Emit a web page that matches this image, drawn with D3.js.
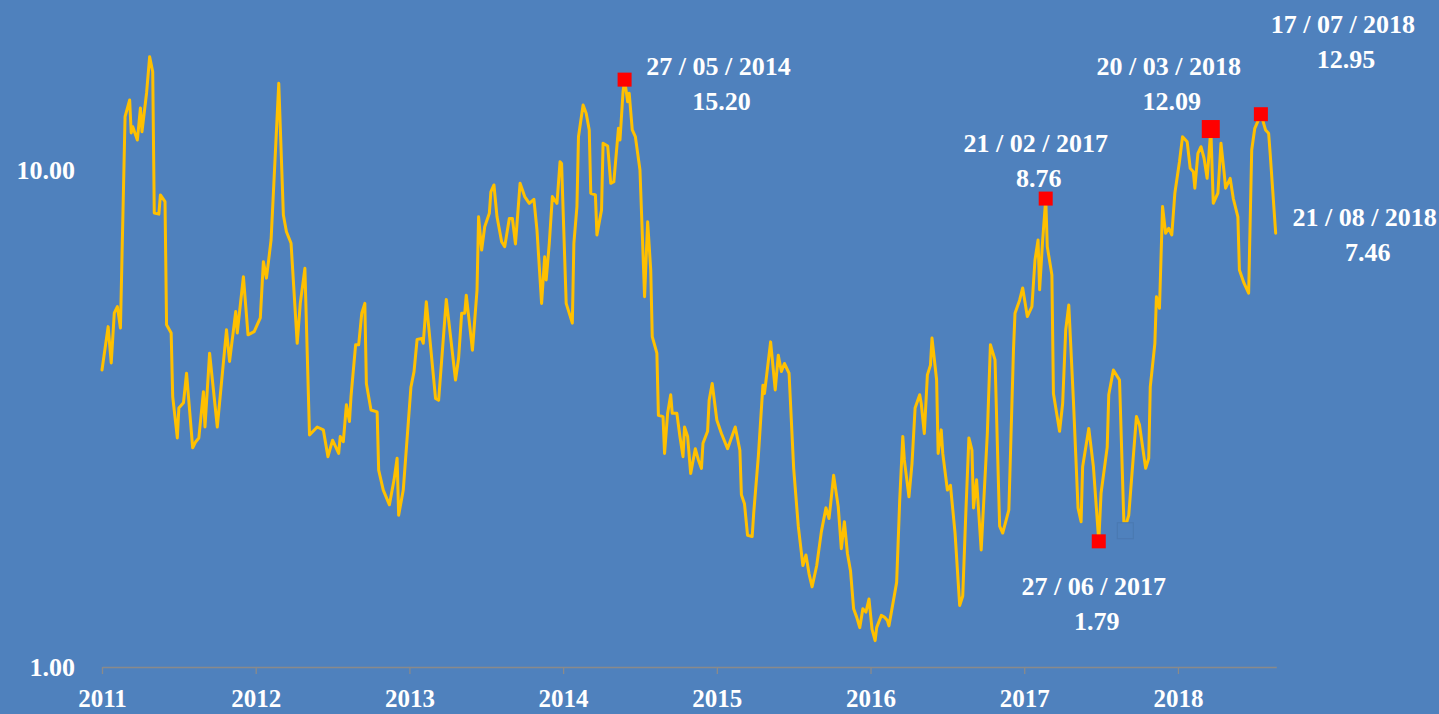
<!DOCTYPE html>
<html>
<head>
<meta charset="utf-8">
<script src="https://cdn.jsdelivr.net/npm/d3@7"></script>
<style>
  html, body { margin: 0; padding: 0; background: #4f81bd; }
  svg { display: block; }
</style>
</head>
<body>
<div id="chart"></div>
<script>
// weekly series, x as decimal year
const years = [
  2011.00, 2011.04, 2011.06, 2011.08, 2011.10, 2011.12, 2011.15, 2011.18, 2011.19, 2011.20,
  2011.23, 2011.25, 2011.26, 2011.29, 2011.31, 2011.33, 2011.34, 2011.37, 2011.38, 2011.41,
  2011.42, 2011.45, 2011.46, 2011.49, 2011.50, 2011.53, 2011.55, 2011.59, 2011.61, 2011.63,
  2011.66, 2011.67, 2011.70, 2011.75, 2011.81, 2011.83, 2011.87, 2011.88, 2011.92, 2011.95,
  2011.99, 2012.03, 2012.05, 2012.07, 2012.10, 2012.15, 2012.18, 2012.20, 2012.23, 2012.27,
  2012.29, 2012.32, 2012.35, 2012.40, 2012.44, 2012.47, 2012.50, 2012.54, 2012.55, 2012.57,
  2012.59, 2012.61, 2012.62, 2012.65, 2012.67, 2012.69, 2012.71, 2012.72, 2012.75, 2012.79,
  2012.80, 2012.83, 2012.87, 2012.90, 2012.92, 2012.93, 2012.96, 2013.01, 2013.03, 2013.05,
  2013.08, 2013.09, 2013.11, 2013.17, 2013.19, 2013.24, 2013.30, 2013.32, 2013.34, 2013.36,
  2013.37, 2013.41, 2013.44, 2013.45, 2013.47, 2013.49, 2013.52, 2013.53, 2013.55, 2013.57,
  2013.60, 2013.62, 2013.65, 2013.67, 2013.69, 2013.72, 2013.75, 2013.78, 2013.81, 2013.83,
  2013.86, 2013.88, 2013.89, 2013.91, 2013.93, 2013.96, 2013.98, 2013.99, 2014.02, 2014.06,
  2014.07, 2014.09, 2014.10, 2014.13, 2014.15, 2014.17, 2014.18, 2014.21, 2014.22, 2014.25,
  2014.26, 2014.29, 2014.31, 2014.33, 2014.36, 2014.37, 2014.39, 2014.40, 2014.42, 2014.43,
  2014.45, 2014.47, 2014.50, 2014.53, 2014.55, 2014.57, 2014.58, 2014.61, 2014.62, 2014.65,
  2014.66, 2014.68, 2014.70, 2014.71, 2014.74, 2014.76, 2014.78, 2014.79, 2014.81, 2014.83,
  2014.86, 2014.88, 2014.90, 2014.91, 2014.94, 2014.95, 2014.97, 2015.00, 2015.03, 2015.07,
  2015.12, 2015.15, 2015.16, 2015.18, 2015.20, 2015.23, 2015.24, 2015.27, 2015.30, 2015.31,
  2015.35, 2015.38, 2015.40, 2015.42, 2015.44, 2015.47, 2015.50, 2015.53, 2015.56, 2015.58,
  2015.60, 2015.62, 2015.65, 2015.68, 2015.71, 2015.73, 2015.74, 2015.76, 2015.79, 2015.81,
  2015.83, 2015.85, 2015.87, 2015.89, 2015.91, 2015.93, 2015.95, 2015.97, 2015.99, 2016.01,
  2016.03, 2016.04, 2016.07, 2016.09, 2016.11, 2016.12, 2016.17, 2016.19, 2016.21, 2016.22,
  2016.25, 2016.27, 2016.29, 2016.32, 2016.33, 2016.35, 2016.37, 2016.39, 2016.40, 2016.43,
  2016.44, 2016.46, 2016.47, 2016.50, 2016.52, 2016.55, 2016.58, 2016.60, 2016.62, 2016.64,
  2016.66, 2016.67, 2016.69, 2016.72, 2016.76, 2016.78, 2016.81, 2016.84, 2016.86, 2016.90,
  2016.93, 2016.94, 2016.97, 2016.99, 2017.02, 2017.05, 2017.07, 2017.09, 2017.10, 2017.12,
  2017.14, 2017.15, 2017.18, 2017.19, 2017.23, 2017.25, 2017.27, 2017.29, 2017.32, 2017.35,
  2017.37, 2017.38, 2017.42, 2017.45, 2017.485, 2017.50, 2017.54, 2017.55, 2017.58, 2017.62,
  2017.65, 2017.68, 2017.73, 2017.75, 2017.79, 2017.81, 2017.82, 2017.85, 2017.86, 2017.88,
  2017.90, 2017.92, 2017.94, 2017.96, 2017.98, 2018.01, 2018.03, 2018.06, 2018.08, 2018.10,
  2018.11, 2018.13, 2018.15, 2018.17, 2018.19, 2018.214, 2018.23, 2018.26, 2018.28, 2018.30,
  2018.31, 2018.34, 2018.36, 2018.39, 2018.40, 2018.43, 2018.46, 2018.48, 2018.50, 2018.54,
  2018.57, 2018.59, 2018.60, 2018.636
];

const values = [
  3.96, 4.84, 4.09, 5.16, 5.31, 4.81, 12.80, 13.83, 11.87, 12.22,
  11.49, 13.33, 11.94, 14.29, 16.90, 15.77, 8.19, 8.15, 8.91, 8.64,
  4.88, 4.70, 3.50, 2.89, 3.32, 3.40, 3.90, 2.76, 2.84, 2.89,
  3.58, 3.04, 4.28, 3.04, 4.77, 4.12, 5.19, 4.70, 6.10, 4.66,
  4.73, 5.04, 6.54, 6.06, 7.23, 14.94, 8.12, 7.51, 7.12, 4.48,
  5.39, 6.34, 2.93, 3.04, 3.00, 2.65, 2.86, 2.69, 2.91, 2.84,
  3.37, 3.12, 3.50, 4.45, 4.45, 5.15, 5.39, 3.72, 3.29, 3.26,
  2.49, 2.27, 2.12, 2.38, 2.63, 2.02, 2.27, 3.66, 3.93, 4.56,
  4.58, 4.48, 5.43, 3.47, 3.44, 5.49, 3.78, 4.18, 5.15, 5.15,
  5.60, 4.34, 5.74, 8.05, 6.90, 7.69, 8.18, 9.04, 9.33, 8.05,
  7.17, 7.01, 7.99, 7.99, 7.10, 9.40, 8.84, 8.57, 8.73, 7.57,
  5.39, 6.69, 6.01, 7.12, 8.84, 8.57, 10.39, 10.31, 5.39, 4.92,
  7.12, 8.44, 11.67, 13.51, 13.01, 12.04, 8.98, 8.91, 7.40, 8.31,
  11.32, 11.18, 9.40, 9.47, 12.13, 11.49, 14.38, 15.20, 13.72, 14.27,
  12.04, 11.67, 10.00, 5.56, 7.87, 6.29, 4.62, 4.28, 3.21, 3.19,
  2.69, 3.24, 3.53, 3.24, 3.24, 2.91, 2.65, 3.04, 2.91, 2.45,
  2.75, 2.61, 2.51, 2.82, 2.98, 3.44, 3.72, 3.14, 2.95, 2.75,
  3.04, 2.73, 2.22, 2.13, 1.84, 1.83, 2.04, 2.65, 3.69, 3.55,
  4.51, 3.61, 4.24, 3.93, 4.08, 3.90, 2.51, 1.92, 1.60, 1.68,
  1.54, 1.45, 1.60, 1.87, 2.09, 1.99, 2.12, 2.43, 2.10, 1.73,
  1.96, 1.69, 1.56, 1.31, 1.26, 1.20, 1.31, 1.29, 1.37, 1.19,
  1.13, 1.20, 1.27, 1.26, 1.24, 1.21, 1.48, 2.17, 2.91, 2.61,
  2.20, 2.57, 3.32, 3.53, 3.39, 2.95, 3.87, 4.05, 4.59, 3.78,
  2.69, 3.00, 2.69, 2.27, 2.32, 1.86, 1.33, 1.39, 2.04, 2.89,
  2.73, 2.09, 2.38, 1.72, 2.95, 4.45, 4.15, 1.92, 1.86, 2.07,
  4.34, 5.15, 5.47, 5.79, 5.07, 5.31, 6.59, 7.23, 5.74, 7.23,
  8.76, 7.01, 6.15, 3.55, 2.98, 3.39, 4.77, 5.35, 3.44, 2.09,
  1.96, 2.53, 3.02, 2.53, 1.79, 2.24, 2.77, 3.53, 3.96, 3.78,
  1.88, 2.02, 3.19, 3.07, 2.51, 2.63, 3.66, 4.48, 5.56, 5.27,
  8.44, 7.46, 7.63, 7.40, 8.98, 10.39, 11.67, 11.40, 10.08, 9.92,
  9.19, 10.80, 11.14, 10.56, 9.62, 12.09, 8.57, 8.98, 11.32, 9.92,
  9.19, 9.62, 8.77, 8.05, 6.29, 5.92, 5.65, 10.97, 12.13, 12.95,
  12.04, 11.86, 10.80, 7.46
];

const yearTicks = [2011, 2012, 2013, 2014, 2015, 2016, 2017, 2018];
const valueTicks = [1, 10];

// annotated points
const labelDates = ["27/05/2014", "21/02/2017", "27/06/2017", "20/03/2018", "17/07/2018", "21/08/2018"];
const labelValues = [15.20, 8.76, 1.79, 12.09, 12.95, 7.46];

// point hidden behind a blank marker
const hiddenDate = "29/08/2017";
const hiddenValue = 1.88;

// label placement (offsets from the point, px) and marker sizes
const labelOffsets = [
  {dx: 94, dy: -5, marker: 14},
  {dx: -10, dy: -47, marker: 14},
  {dx: -5, dy: 54, marker: 14},
  {dx: -42, dy: -54, marker: 18},
  {dx: 82, dy: -81, marker: 14},
  {dx: 89, dy: -7, marker: 0}
];

const bg = "#4f81bd";
const font = "'Liberation Serif', 'Times New Roman', serif";
const W = 1439, H = 714;

const parseDay = d3.timeParse("%d/%m/%Y");
function toYear(str) {
  const d = parseDay(str);
  const y = d.getFullYear();
  const a = new Date(y, 0, 1), b = new Date(y + 1, 0, 1);
  return y + (d - a) / (b - a);
}

const data = years.map((yr, i) => ({year: yr, value: values[i]}));

const svg = d3.select("#chart")
  .append("svg")
  .attr("width", W)
  .attr("height", H);

svg.append("rect")
  .attr("width", W)
  .attr("height", H)
  .attr("fill", bg);

const x = d3.scaleLinear()
  .domain([2011, 2018.64])
  .range([102, 1276.3]);

const y = d3.scaleLog()
  .domain([1, 10])
  .range([667, 170]);

// x axis
const xAxis = svg.append("g")
  .attr("transform", `translate(0,${y(1)})`)
  .call(d3.axisBottom(x)
    .tickValues(yearTicks)
    .tickFormat(d3.format("d"))
    .tickSize(7)
    .tickSizeOuter(0));
xAxis.select(".domain").attr("stroke", "#8a8a8a").attr("stroke-width", 1.3);
xAxis.selectAll(".tick line").attr("stroke", "#8a8a8a").attr("stroke-width", 1.3);
xAxis.selectAll(".tick text")
  .attr("y", 40)
  .attr("dy", 0)
  .attr("fill", "#fff")
  .style("font-family", font)
  .style("font-weight", "bold")
  .style("font-size", "25px");

// y axis, labels only
const yAxis = svg.append("g")
  .attr("transform", `translate(${x(2011)},0)`)
  .call(d3.axisLeft(y)
    .tickValues(valueTicks)
    .tickFormat(d3.format(".2f"))
    .tickSize(0)
    .tickPadding(27));
yAxis.select(".domain").remove();
yAxis.selectAll(".tick text")
  .attr("dy", "0.34em")
  .attr("fill", "#fff")
  .style("font-family", font)
  .style("font-weight", "bold")
  .style("font-size", "26px");

// the series
svg.append("path")
  .datum(data)
  .attr("fill", "none")
  .attr("stroke", "#ffc000")
  .attr("stroke-width", 3)
  .attr("stroke-linejoin", "round")
  .attr("stroke-linecap", "round")
  .attr("d", d3.line()
    .x(d => x(d.year))
    .y(d => y(d.value)));

// blank marker
const hs = 16;
svg.append("rect")
  .attr("x", x(toYear(hiddenDate)) - hs / 2)
  .attr("y", y(hiddenValue) - hs / 2)
  .attr("width", hs)
  .attr("height", hs)
  .attr("fill", bg)
  .attr("stroke", "#4a78b0")
  .attr("stroke-width", 1);

// annotated markers and labels
const slashGap = 6.5;
labelDates.forEach((ds, i) => {
  const px = x(toYear(ds));
  const py = y(labelValues[i]);
  const o = labelOffsets[i];

  if (o.marker > 0) {
    svg.append("rect")
      .attr("x", px - o.marker / 2)
      .attr("y", py - o.marker / 2)
      .attr("width", o.marker)
      .attr("height", o.marker)
      .attr("fill", "#ff0000");
  }

  const t = svg.append("text")
    .attr("x", px + o.dx)
    .attr("y", py + o.dy)
    .attr("text-anchor", "middle")
    .attr("fill", "#fff")
    .style("font-family", font)
    .style("font-weight", "bold")
    .style("font-size", "26px");
  ds.split("/").forEach((part, j) => {
    if (j > 0) t.append("tspan").attr("dx", slashGap).text("/");
    t.append("tspan").attr("dx", j > 0 ? slashGap : 0).text(part);
  });

  svg.append("text")
    .attr("x", px + o.dx + 3)
    .attr("y", py + o.dy + 35)
    .attr("text-anchor", "middle")
    .attr("fill", "#fff")
    .style("font-family", font)
    .style("font-weight", "bold")
    .style("font-size", "26px")
    .text(d3.format(".2f")(labelValues[i]));
});
</script>
</body>
</html>
